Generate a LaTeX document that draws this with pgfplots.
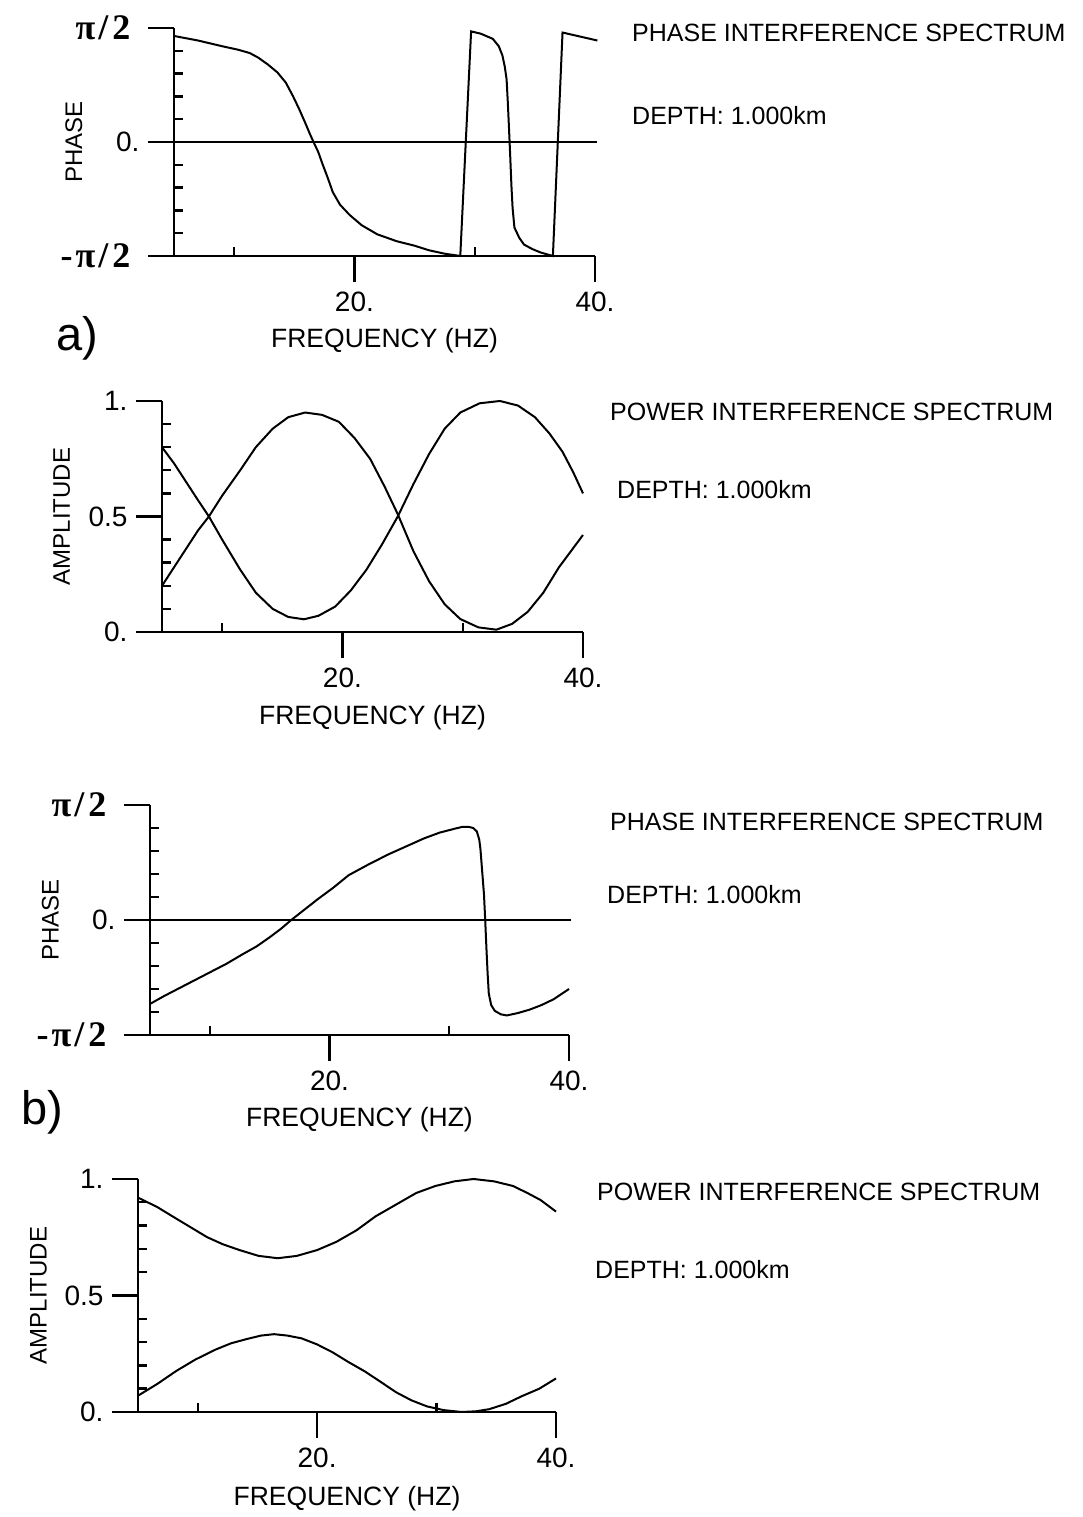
\documentclass[border=0pt]{standalone}
\usepackage{fontspec}
\setmainfont{Liberation Sans}
\newfontfamily\pifont{Liberation Serif}
\usepackage{pgfplots}
\pgfplotsset{compat=1.18}

\newcommand{\tfont}{\fontsize{28}{32}\selectfont}
\newcommand{\xlfont}{\fontsize{26.5}{30}\selectfont}
\newcommand{\ylfont}{\fontsize{24}{28}\selectfont}
\newcommand{\capfont}{\fontsize{25}{30}\selectfont}
\newcommand{\bigfont}{\fontsize{47}{50}\selectfont}
\newcommand{\pilab}[1]{{\pifont\bfseries\fontsize{36}{40}\selectfont #1\kern9pt}}

\pgfplotsset{
  panel/.style={
    scale only axis, anchor=south west,
    xmin=5, xmax=40,
    axis x line=bottom, axis y line=left,
    axis line style={-, line width=2.8pt},
    clip=false,
    xtick={20,40}, xticklabels={20.,40.},
    tick align=outside, major tick length=26pt,
    every tick/.append style={black, line width=2.4pt},
    extra x ticks={10,30}, extra x tick labels={},
    extra x tick style={tick align=inside, major tick length=9pt},
    tick label style={font=\tfont},
    xticklabel style={yshift=-6pt},
    yticklabel style={xshift=-5pt},
    xlabel={FREQUENCY (HZ)},
    xlabel style={font=\xlfont, at={(axis description cs:0.5,-0.37)}, anchor=center},
    ylabel style={font=\ylfont, at={(axis description cs:-0.238,0.5)}, anchor=center},
    every axis plot/.append style={line width=2pt},
    every axis plot post/.append style={black, mark=none},
  },
  phase/.style={
    panel, ymin=-1, ymax=1,
    ytick={-1,0,1},
    yticklabels={\pilab{-\kern3pt π\kern3pt/\kern4pt2}, 0., \pilab{π\kern3pt/\kern4pt2}},
    extra y ticks={-0.8,-0.6,-0.4,-0.2,0.2,0.4,0.6,0.8}, extra y tick labels={},
    extra y tick style={tick align=inside, major tick length=9pt},
    ylabel={PHASE},
  },
  power/.style={
    panel, ymin=0, ymax=1,
    ytick={0,0.5,1}, yticklabels={0.,0.5,1.},
    extra y ticks={0.1,0.2,0.3,0.4,0.6,0.7,0.8,0.9}, extra y tick labels={},
    extra y tick style={tick align=inside, major tick length=9pt},
    ylabel={AMPLITUDE},
  },
}

\begin{document}
\begin{tikzpicture}[x=1pt,y=1pt]
\useasboundingbox (0pt,0pt) rectangle (1083pt,1517pt);

% ---- a) phase
\begin{axis}[phase, at={(174pt,1261pt)}, width=421pt, height=228pt]
\addplot[line width=2.8pt] coordinates {(5,0) (40.2,0)};
\addplot coordinates {
  (5,0.93) (7,0.89) (9,0.84) (10.3,0.81) (11.3,0.78) (12,0.74) (12.8,0.68)
  (13.6,0.61) (14.3,0.52) (14.9,0.40) (15.4,0.29) (15.9,0.17) (16.3,0.07)
  (16.6,0.0) (17.0,-0.09) (17.3,-0.18) (17.8,-0.32) (18.2,-0.44) (18.8,-0.55)
  (19.6,-0.64) (20.6,-0.73) (21.9,-0.81) (23.5,-0.87) (25,-0.91) (26.2,-0.95)
  (27.5,-0.98) (28.8,-1.0)
  (29.7,0.97) (30.5,0.95) (31.5,0.905) (32.0,0.84) (32.3,0.76) (32.5,0.66)
  (32.65,0.55) (32.75,0.35) (32.85,0.12) (32.95,-0.12) (33.05,-0.38)
  (33.15,-0.58) (33.3,-0.75) (33.7,-0.84) (34.1,-0.90) (34.8,-0.94)
  (35.5,-0.97) (36.5,-1.0)
  (37.3,0.96) (40.2,0.89)
};
\end{axis}

% ---- a) power
\begin{axis}[power, at={(162pt,885pt)}, width=421pt, height=231pt]
\addplot coordinates {
  (5,0.80) (6,0.73) (7,0.65) (8,0.57) (8.9,0.50) (10,0.40) (11.5,0.27)
  (12.8,0.17) (14.2,0.10) (15.5,0.065) (16.8,0.055) (18,0.07) (19.4,0.11)
  (20.7,0.18) (22,0.27) (23.3,0.38) (24.6,0.50) (25.9,0.64) (27.2,0.77)
  (28.5,0.88) (29.8,0.95) (31.4,0.99) (33.1,1.0) (34.6,0.98) (36,0.93)
  (37.2,0.86) (38.3,0.78) (39.2,0.69) (40,0.60)
};
\addplot coordinates {
  (5,0.20) (6,0.28) (7,0.36) (8,0.44) (8.9,0.50) (10,0.59) (11.5,0.70)
  (12.8,0.80) (14.2,0.88) (15.5,0.93) (16.9,0.95) (18.3,0.94) (19.7,0.91)
  (21,0.84) (22.3,0.75) (23.5,0.63) (24.6,0.51) (25.9,0.35) (27.2,0.22)
  (28.5,0.12) (29.8,0.056) (31.3,0.02) (32.8,0.01) (34.1,0.035) (35.4,0.087)
  (36.7,0.17) (38,0.28) (39,0.35) (40,0.42)
};
\end{axis}

% ---- b) phase
\begin{axis}[phase, at={(150pt,482pt)}, width=419pt, height=230pt]
\addplot[line width=2.8pt] coordinates {(5,0) (40.2,0)};
\addplot coordinates {
  (5,-0.73) (6.2,-0.66) (7.5,-0.59) (8.8,-0.52) (10.1,-0.45) (11.4,-0.38)
  (12.7,-0.30) (13.9,-0.23) (15,-0.15) (15.9,-0.08) (16.8,0.0) (17.9,0.09)
  (19,0.18) (20.3,0.28) (21.6,0.39) (23.2,0.48) (24.9,0.57) (26.4,0.64)
  (27.9,0.71) (29.2,0.76) (30.5,0.795) (31.1,0.81) (31.6,0.81) (32.0,0.80)
  (32.3,0.77) (32.5,0.70) (32.6,0.62) (32.75,0.42) (32.9,0.22) (33.0,0.0)
  (33.1,-0.24) (33.2,-0.46) (33.3,-0.64) (33.5,-0.74) (33.8,-0.79)
  (34.3,-0.82) (34.8,-0.83) (35.7,-0.81) (36.7,-0.78) (37.7,-0.74)
  (38.7,-0.69) (40,-0.60)
};
\end{axis}

% ---- b) power
\begin{axis}[power, at={(138pt,105pt)}, width=418pt, height=233pt]
\addplot coordinates {
  (5,0.92) (6.6,0.88) (8.2,0.83) (9.5,0.79) (10.8,0.75) (12.1,0.72)
  (13.5,0.695) (15.1,0.67) (16.7,0.66) (18.3,0.67) (20,0.695) (21.6,0.73)
  (23.3,0.78) (24.9,0.84) (26.6,0.89) (28.3,0.94) (29.9,0.97) (31.5,0.99)
  (33.1,1.0) (34.8,0.99) (36.4,0.97) (37.6,0.94) (38.7,0.91) (40,0.86)
};
\addplot coordinates {
  (5,0.07) (6.6,0.12) (8.2,0.176) (9.8,0.225) (11.5,0.268) (12.8,0.295)
  (14.1,0.313) (15.3,0.328) (16.4,0.334) (17.5,0.328) (18.7,0.316) (20,0.29)
  (21.3,0.256) (22.6,0.215) (24,0.174) (25.3,0.13) (26.6,0.085) (27.9,0.05)
  (29.2,0.024) (30.6,0.008) (32.1,0.0) (33.3,0.003) (34.4,0.012) (35.8,0.035)
  (37.1,0.067) (38.6,0.10) (40,0.144)
};
\end{axis}

% side captions
\begin{scope}[every node/.style={anchor=west, inner sep=0pt, font=\capfont}]
\node at (632pt,1484pt) {PHASE INTERFERENCE SPECTRUM};
\node at (632pt,1401pt) {DEPTH: 1.000km};
\node at (610pt,1105pt) {POWER INTERFERENCE SPECTRUM};
\node at (617pt,1027pt) {DEPTH: 1.000km};
\node at (610pt,695pt) {PHASE INTERFERENCE SPECTRUM};
\node at (607pt,622pt) {DEPTH: 1.000km};
\node at (597pt,325pt) {POWER INTERFERENCE SPECTRUM};
\node at (595pt,247pt) {DEPTH: 1.000km};
\end{scope}

\node[font=\bigfont] at (77pt,1179pt) {a)};
\node[font=\bigfont] at (42pt,405pt) {b)};
\end{tikzpicture}
\end{document}
